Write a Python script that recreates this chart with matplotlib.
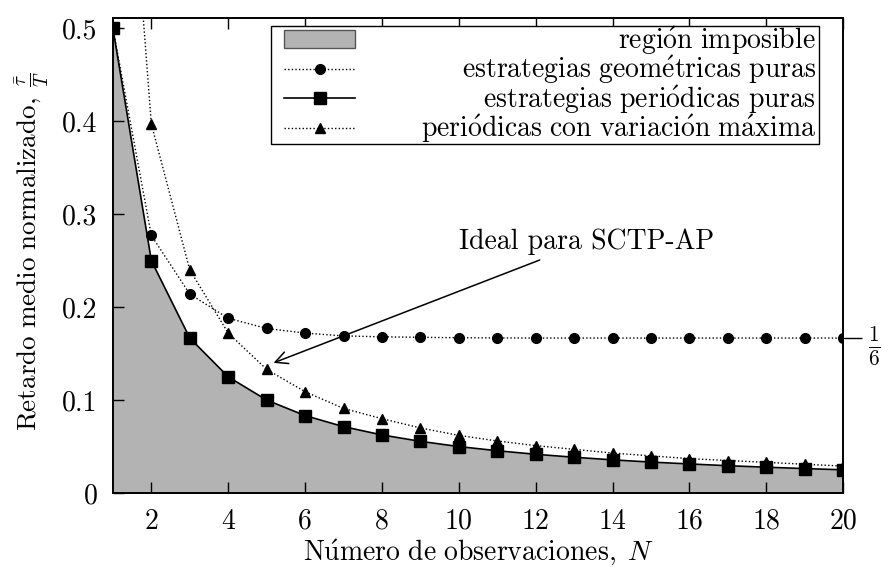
import matplotlib
matplotlib.use("Agg")
import matplotlib.pyplot as plt
from matplotlib.patches import Rectangle
from matplotlib.transforms import IdentityTransform

plt.rcParams['font.family'] = ['cmr10', 'DejaVu Serif']
plt.rcParams['mathtext.fontset'] = 'cm'
plt.rcParams['axes.formatter.use_mathtext'] = True
plt.rcParams['axes.unicode_minus'] = False

# observaciones
N = list(range(1, 21))
# retardo medio normalizado de cada estrategia
periodicas = [0.5, 0.25, 0.1667, 0.125, 0.1, 0.0833, 0.0714, 0.0625, 0.0556, 0.05,
              0.0455, 0.0417, 0.0385, 0.0357, 0.0333, 0.0313, 0.0294, 0.0278, 0.0263, 0.025]
geometricas = [0.5, 0.277, 0.214, 0.188, 0.177, 0.172, 0.169, 0.168, 0.1675, 0.167,
               0.1668, 0.1667, 0.1667, 0.1667, 0.1667, 0.1667, 0.1667, 0.1667, 0.1667, 0.1667]
variacion_max = [0.94, 0.397, 0.240, 0.172, 0.133, 0.109, 0.091, 0.080, 0.070, 0.062,
                 0.056, 0.051, 0.047, 0.043, 0.040, 0.037, 0.035, 0.033, 0.031, 0.029]

xticks = [2, 4, 6, 8, 10, 12, 14, 16, 18, 20]
yticks = [0, 0.1, 0.2, 0.3, 0.4, 0.5]
ytick_labels = ['0', '0.1', '0.2', '0.3', '0.4', '0.5']
limite = 1 / 6

ACENTOS = {'á': r'\acute{a}', 'é': r'\acute{e}', 'ó': r'\acute{o}', 'ú': r'\acute{u}'}


def rm(texto, extra=''):
    # cmr10 no trae vocales acentuadas: se escriben con mathtext
    for c, m in ACENTOS.items():
        texto = texto.replace(c, m)
    return r'$\mathrm{' + texto.replace(' ', r'\ ') + '}' + extra + '$'


FS = 20

fig = plt.figure(figsize=(8.82, 5.76), dpi=100)
ax = fig.add_axes([0.128, 0.144, 0.828, 0.825])

ax.fill_between(N, 0, periodicas, facecolor='#b3b3b3', edgecolor='#555555', linewidth=0,
                zorder=1, label=rm('región imposible'))
ax.plot(N, geometricas, color='black', linestyle=(0, (1, 1.6)), linewidth=1.0,
        marker='o', markersize=7, label=rm('estrategias geométricas puras'), zorder=3)
ax.plot(N, periodicas, color='black', linestyle='-', linewidth=1.2,
        marker='s', markersize=8, label=rm('estrategias periódicas puras'), zorder=4)
ax.plot(N, variacion_max, color='black', linestyle=(0, (1, 1.6)), linewidth=1.0,
        marker='^', markersize=6.5, label=rm('periódicas con variación máxima'), zorder=3)

ax.set_xlim(1, 20)
ax.set_ylim(0, 0.511)
ax.set_xticks(xticks)
ax.set_xticklabels([str(x) for x in xticks])
ax.set_yticks(yticks)
ax.set_yticklabels(ytick_labels)
ax.tick_params(direction='in', length=8, width=1, top=True, right=True,
               labelsize=FS, pad=11)
for s in ax.spines.values():
    s.set_linewidth(1.4)

ax.set_xlabel(rm('Número de observaciones,', r'\;N'), fontsize=FS, labelpad=2)
ax.set_ylabel(rm('Retardo medio normalizado,', r'\;\frac{\bar{\tau}}{T}'), fontsize=19.5)
ax.yaxis.set_label_coords(-0.085, 0.51)

# marca del limite 1/6 en el eje derecho
ax2 = ax.twinx()
ax2.set_ylim(ax.get_ylim())
ax2.set_yticks([limite])
ax2.set_yticklabels([r'$\frac{1}{6}$'])
ax2.tick_params(direction='out', length=14, width=1, labelsize=22, pad=4)
for s in ax2.spines.values():
    s.set_visible(False)

ax.annotate('Ideal para SCTP-AP', xy=(5.18, 0.140), xytext=(10.0, 0.270),
            fontsize=FS, va='center', ha='left',
            arrowprops=dict(arrowstyle='->', color='black', linewidth=1.1,
                            mutation_scale=22, shrinkA=4, shrinkB=0))

# leyenda sin marco; el marco se dibuja aparte con su propio margen
handles, labels = ax.get_legend_handles_labels()
leg = ax.legend(handles, labels, loc='upper right', bbox_to_anchor=(816, 576 - 24),
                bbox_transform=IdentityTransform(),
                fontsize=FS, frameon=False, handlelength=2.55, handleheight=0.6,
                handletextpad=2.37, labelspacing=-0.13, borderpad=0, borderaxespad=0)
leg.legend_handles[0].set_edgecolor('#555555')
leg.legend_handles[0].set_linewidth(1.0)
leg.set_zorder(6)

fig.canvas.draw()
renderer = fig.canvas.get_renderer()
anchos = [t.get_window_extent(renderer).width for t in leg.get_texts()]
for t, w in zip(leg.get_texts(), anchos):
    t.set_ha('right')
    t.set_position((max(anchos) - w, 0))

bb = leg.get_window_extent(renderer)
marco = Rectangle((bb.x0 - 13, bb.y0 + 1), bb.width + 16, bb.height - 3,
                  transform=IdentityTransform(), facecolor='white', edgecolor='black',
                  linewidth=1.0, zorder=5.5, clip_on=False)
ax.add_patch(marco)

fig.savefig('out.png', dpi=100)
